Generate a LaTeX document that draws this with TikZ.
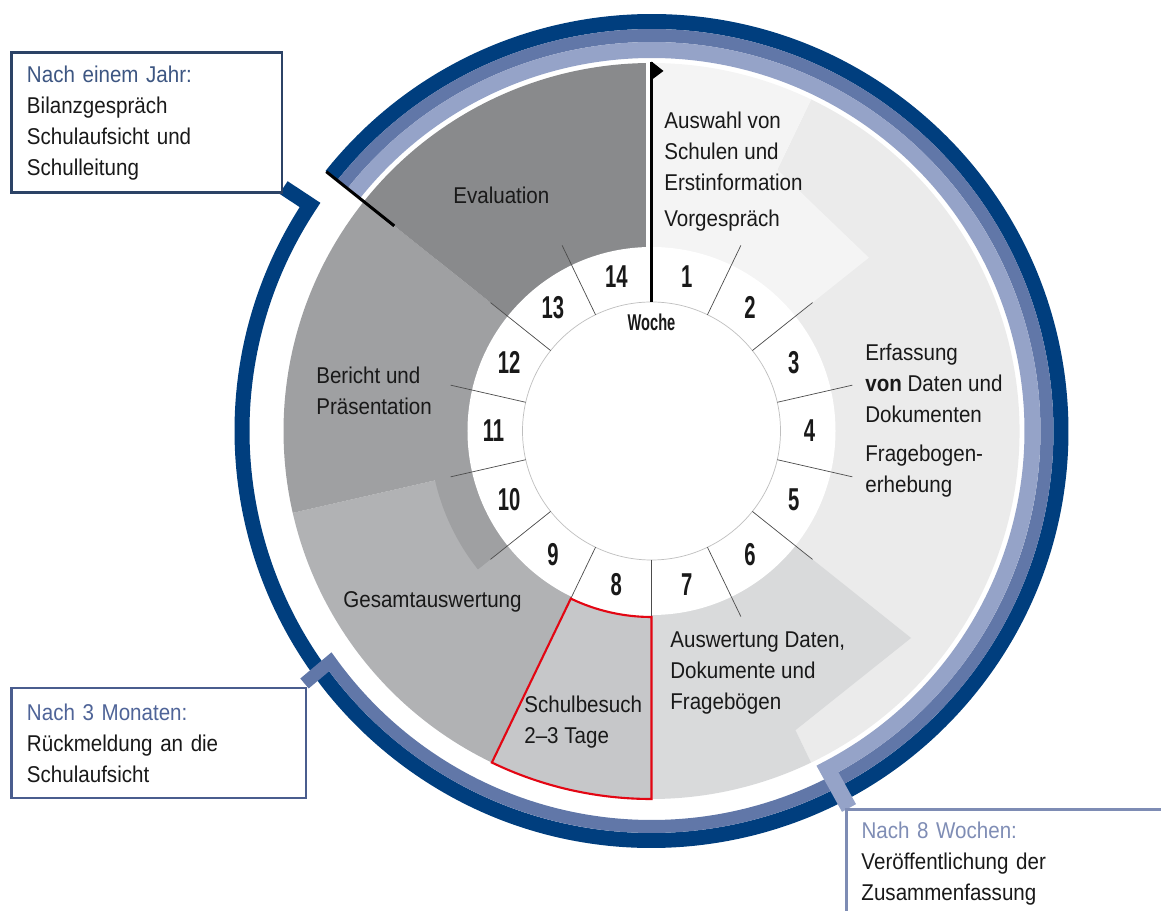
\documentclass[tikz,border=0pt]{standalone}
\usepackage{fontspec}
\setmainfont{Liberation Sans}[FakeStretch=0.9]
\newfontfamily\numfont{Liberation Sans}[FakeStretch=0.64]
\usetikzlibrary{backgrounds}
\definecolor{bandDark}{HTML}{003E7E}
\definecolor{bandMid}{HTML}{6177A8}
\definecolor{bandLight}{HTML}{95A3C8}
\definecolor{grayEval}{HTML}{898A8C}
\definecolor{grayBericht}{HTML}{9FA0A2}
\definecolor{grayGesamt}{HTML}{B1B2B4}
\definecolor{grayBesuch}{HTML}{C6C7C9}
\definecolor{grayAusw}{HTML}{D9DADB}
\definecolor{grayErf}{HTML}{EBEBEB}
\definecolor{grayStart}{HTML}{F4F4F4}
\definecolor{besuchRed}{HTML}{E30613}
\definecolor{boxJahr}{HTML}{2C4366}
\definecolor{boxMonat}{HTML}{4A5D8E}
\definecolor{boxWoche}{HTML}{7E8CB4}
\definecolor{headJahr}{HTML}{3D5682}
\definecolor{headMonat}{HTML}{4F6498}
\definecolor{headWoche}{HTML}{7F8DB5}

\begin{document}
\begin{tikzpicture}[x=0.2mm, y=0.2mm,
    phase/.style={anchor=west, align=left, inner sep=0pt, font=\fontsize{13}{17.6}\selectfont, text=black!90},
    weeknum/.style={inner sep=0pt, font=\numfont\bfseries\fontsize{18}{18}\selectfont, text=black!90},
    tick/.style={draw=black!70, line width=0.4pt},
    callout/.style={draw, line width=1.7pt, fill=white, align=left, inner xsep=0.3cm, inner ysep=0pt, font=\fontsize{13}{17.6}\selectfont, text=black!90}
]
    \useasboundingbox (-651.5,-480) rectangle (509.5,431);

    \fill[grayErf] (0,0) -- (64.29:368) arc[start angle=64.29, end angle=-64.29, radius=368] -- cycle;
    \fill[grayStart] (0,0) -- (90:368) arc[start angle=90, end angle=64.29, radius=368] -- (64.29:290) -- (38.57:278) -- cycle;
    \fill[grayAusw] (0,0) -- (-90:368) arc[start angle=-90, end angle=-64.29, radius=368] -- (-64.29:332) -- (-38.57:332) -- cycle;
    \fill[grayGesamt] (0,0) -- (192.86:368) arc[start angle=192.86, end angle=244.29, radius=368] -- cycle;
    \fill[grayBericht] (0,0) -- (141.43:368) arc[start angle=141.43, end angle=192.86, radius=368] -- (192.86:222) arc[start angle=192.86, end angle=218.57, radius=222] -- cycle;
    \fill[grayEval] (0,0) -- (90:368) arc[start angle=90, end angle=141.43, radius=368] -- cycle;
    \fill[white] (-5.5,184) rectangle (-1,370);

    \fill[white] (0,0) circle[radius=184];
    \draw[black!25, line width=0.4pt] (0,0) circle[radius=129];
    \foreach \k in {1,...,13}
        \draw[tick] ({90-\k*360/14}:129) -- ({90-\k*360/14}:206);
    \foreach \k in {1,...,14}
        \node[weeknum] (w\k) at ({90-(\k-0.5)*360/14}:158) {\k};
    \node[weeknum, font=\numfont\bfseries\fontsize{13}{13}\selectfont] (woche) at (0,109) {Woche};

    \filldraw[fill=grayBesuch, draw=besuchRed, line width=1.2pt] (244.29:186) arc[start angle=244.29, end angle=270, radius=186] -- (270:368) arc[start angle=270, end angle=244.29, radius=368] -- cycle;

    \draw[line width=1.7pt] (0,129) -- (0,369);
    \fill (0,369.5) -- (12,360) -- (0,351) -- cycle;

    \node[phase] (auswahl) at (12.5,280) {Auswahl von\\Schulen und\\Erstinformation};
    \node[phase] (vorgespraech) at (12.5,210) {Vorgespräch};
    \node[phase] (erfassung) at (213.5,47.7) {Erfassung\\\textbf{von} Daten und\\Dokumenten};
    \node[phase] (fragebogen) at (213.5,-40) {Fragebogen-\\erhebung};
    \node[phase] (auswertung) at (18.5,-242.3) {Auswertung Daten,\\Dokumente und\\Fragebögen};
    \node[phase] (schulbesuch) at (-127.5,-291) {Schulbesuch\\2--3 Tage};
    \node[phase] (gesamt) at (-308.5,-171) {Gesamtauswertung};
    \node[phase] (bericht) at (-335.5,40.5) {Bericht und\\Präsentation};
    \node[phase] (evaluation) at (-198.5,236) {Evaluation};

    \node[callout, draw=boxJahr, text width=4.8cm, minimum height=2.8cm] (jahr) at (-504.5,308)
        {\textcolor{headJahr}{Nach einem Jahr:}\\Bilanzgespräch\\Schulaufsicht und\\Schulleitung};
    \node[callout, draw=boxMonat, text width=5.28cm, minimum height=2.2cm] (monate) at (-492.5,-312)
        {\textcolor{headMonat}{Nach 3 Monaten:}\\Rückmeldung an die\\Schulaufsicht};
    \node[callout, draw=boxWoche, anchor=north west, text width=6.5cm, minimum height=2.16cm] (wochen) at (193.5,-377)
        {\textcolor{headWoche}{Nach 8 Wochen:}\\Veröffentlichung der\\Zusammenfassung};

    \coordinate (jahrend) at ([yshift=0.14cm]jahr.south east);
    \coordinate (monend) at ([xshift=-0.06cm, yshift=0.06cm]monate.north east);
    \coordinate (wochend) at ([xshift=0.08cm]wochen.north west);

    \begin{scope}[on background layer]
        \draw[bandDark, line width=0.3cm] (141.43:409.5) arc[start angle=141.43, end angle=-213.5, radius=409.5] -- (jahrend);
        \draw[bandMid, line width=0.26cm] (141.43:395.5) arc[start angle=141.43, end angle=-144.3, radius=395.5] -- (monend);
        \draw[bandLight, line width=0.32cm] (141.43:381) arc[start angle=141.43, end angle=-62.5, radius=381] -- (wochend);
    \end{scope}
    \draw[line width=1.7pt] (141.43:329) -- (141.43:416);
\end{tikzpicture}
\end{document}
